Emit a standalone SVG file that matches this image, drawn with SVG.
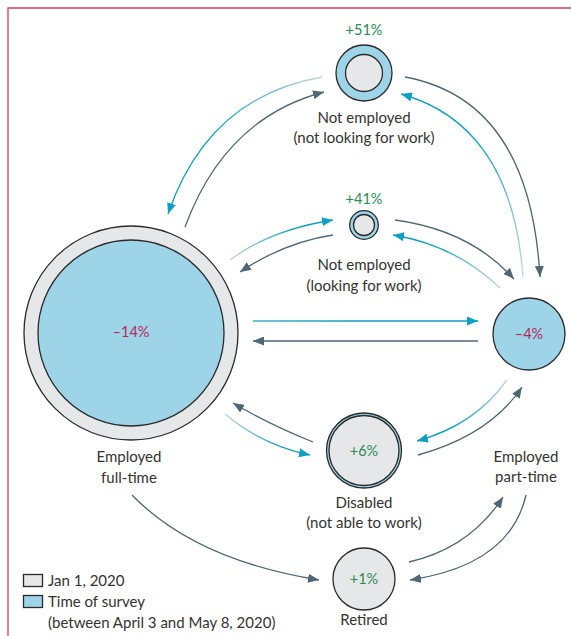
<svg xmlns="http://www.w3.org/2000/svg" width="571" height="636" viewBox="0 0 571 636">
<style>
.lbl{font-family:Lato,"Open Sans","Liberation Sans",sans-serif;font-size:15px;fill:#333333;text-anchor:middle}
.leg{font-family:Lato,"Open Sans","Liberation Sans",sans-serif;font-size:15px;fill:#333333}
.pos{font-family:Lato,"Open Sans","Liberation Sans",sans-serif;font-size:14.5px;fill:#2a8a58;text-anchor:middle}
.neg{font-family:Lato,"Open Sans","Liberation Sans",sans-serif;font-size:14.5px;fill:#b4285c;text-anchor:middle}
.ring{stroke:#2a2a2a;stroke-width:1.3}
.grey{fill:#e6e7e8}
.blue{fill:#9dd4e7}
.dk{fill:none;stroke:#4e6772;stroke-width:1.3;marker-end:url(#ad)}
.cy{fill:none;stroke-width:1.3;marker-end:url(#ac)}
</style>
<defs>
<marker id="ad" viewBox="0 0 11 9" refX="11" refY="4.5" markerWidth="11" markerHeight="9" markerUnits="userSpaceOnUse" orient="auto"><path d="M0,0 L11,4.5 L0,9 z" fill="#4e6772"/></marker>
<marker id="ac" viewBox="0 0 11 9" refX="11" refY="4.5" markerWidth="11" markerHeight="9" markerUnits="userSpaceOnUse" orient="auto"><path d="M0,0 L11,4.5 L0,9 z" fill="#0ea0c3"/></marker>
<linearGradient id="g1" gradientUnits="userSpaceOnUse" x1="322" y1="77" x2="168" y2="214"><stop offset="0" stop-color="#c4d4da"/><stop offset="0.6" stop-color="#0ea0c3"/></linearGradient>
<linearGradient id="g4" gradientUnits="userSpaceOnUse" x1="523" y1="277" x2="401" y2="94"><stop offset="0" stop-color="#c4d4da"/><stop offset="0.7" stop-color="#0ea0c3"/></linearGradient>
<linearGradient id="g5" gradientUnits="userSpaceOnUse" x1="230" y1="260" x2="333" y2="220"><stop offset="0" stop-color="#c4d4da"/><stop offset="0.7" stop-color="#0ea0c3"/></linearGradient>
<linearGradient id="g8" gradientUnits="userSpaceOnUse" x1="500" y1="288" x2="393" y2="235"><stop offset="0" stop-color="#c4d4da"/><stop offset="0.7" stop-color="#0ea0c3"/></linearGradient>
<linearGradient id="g9" gradientUnits="userSpaceOnUse" x1="253" y1="321" x2="478" y2="321"><stop offset="0" stop-color="#3fb0cc"/><stop offset="0.4" stop-color="#0ea0c3"/></linearGradient>
<linearGradient id="g12" gradientUnits="userSpaceOnUse" x1="225" y1="414" x2="310" y2="455"><stop offset="0" stop-color="#c4d4da"/><stop offset="0.7" stop-color="#0ea0c3"/></linearGradient>
<linearGradient id="g13" gradientUnits="userSpaceOnUse" x1="507" y1="380" x2="417" y2="441"><stop offset="0" stop-color="#c4d4da"/><stop offset="0.7" stop-color="#0ea0c3"/></linearGradient>
</defs>
<rect width="571" height="636" fill="#ffffff"/>
<g id="frame" fill="none" stroke="#d63a62" stroke-width="1.3">
<path d="M8,636 L8,8 L571,8"/>
</g>
<g id="connectors">
<path class="cy" stroke="url(#g1)" d="M322,77 Q208,97 168,214"/>
<path class="dk" d="M185,227 Q225,118 324,92"/>
<path class="dk" d="M405,77 Q530,100 540,277"/>
<path class="cy" stroke="url(#g4)" d="M523,277 Q512,125 401,94"/>
<path class="cy" stroke="url(#g5)" d="M230,260 Q270,230 333,220"/>
<path class="dk" d="M333,235 Q285,242 240,272"/>
<path class="dk" d="M395,220 Q470,230 514,279"/>
<path class="cy" stroke="url(#g8)" d="M500,288 Q455,245 393,235"/>
<path class="cy" stroke="url(#g9)" d="M253,321 L478,321"/>
<path class="dk" d="M478,341 L253,341"/>
<path class="dk" d="M313,442 Q270,425 233,403"/>
<path class="cy" stroke="url(#g12)" d="M225,414 Q262,445 310,455"/>
<path class="cy" stroke="url(#g13)" d="M507,380 Q475,425 417,441"/>
<path class="dk" d="M418,455 Q490,435 522,387"/>
<path class="dk" d="M132,495 Q195,560 319,580"/>
<path class="dk" d="M409,562 Q470,548 503,497"/>
<path class="dk" d="M526,495 Q510,565 410,580"/>
</g>
<g id="node-fulltime">
<circle class="ring grey" cx="131" cy="333" r="107"/>
<circle class="ring blue" cx="131" cy="333" r="93"/>
<text class="neg" x="131" y="337">–14%</text>
<text class="lbl" x="129" y="462">Employed</text>
<text class="lbl" x="129" y="483">full-time</text>
</g>
<g id="node-notlooking">
<text class="pos" x="364" y="35">+51%</text>
<circle class="ring blue" cx="364" cy="73" r="28"/>
<circle class="ring grey" cx="364" cy="73" r="18.5"/>
<text class="lbl" x="364" y="123">Not employed</text>
<text class="lbl" x="364" y="143">(not looking for work)</text>
</g>
<g id="node-looking">
<text class="pos" x="364" y="204">+41%</text>
<circle class="ring blue" cx="364" cy="225" r="14.3"/>
<circle class="ring grey" cx="364" cy="225" r="10.5"/>
<text class="lbl" x="364" y="270">Not employed</text>
<text class="lbl" x="364" y="291">(looking for work)</text>
</g>
<g id="node-parttime">
<circle class="ring blue" cx="529" cy="334" r="36"/>
<text class="neg" x="529" y="339">–4%</text>
<text class="lbl" x="526" y="462">Employed</text>
<text class="lbl" x="526" y="482">part-time</text>
</g>
<g id="node-disabled">
<circle class="ring blue" cx="364" cy="450.5" r="37.5"/>
<circle class="ring grey" cx="364" cy="450.5" r="35"/>
<text class="pos" x="364" y="456">+6%</text>
<text class="lbl" x="364" y="508">Disabled</text>
<text class="lbl" x="364" y="528">(not able to work)</text>
</g>
<g id="node-retired">
<circle class="ring grey" cx="364" cy="579" r="31"/>
<text class="pos" x="364" y="584">+1%</text>
<text class="lbl" x="364" y="625">Retired</text>
</g>
<g id="legend">
<rect class="ring grey" x="23.5" y="574.5" width="19" height="12"/>
<rect class="ring blue" x="23.5" y="595.5" width="19" height="12"/>
<text class="leg" x="48" y="586">Jan 1, 2020</text>
<text class="leg" x="48" y="607">Time of survey</text>
<text class="leg" x="48" y="628">(between April 3 and May 8, 2020)</text>
</g>
</svg>
